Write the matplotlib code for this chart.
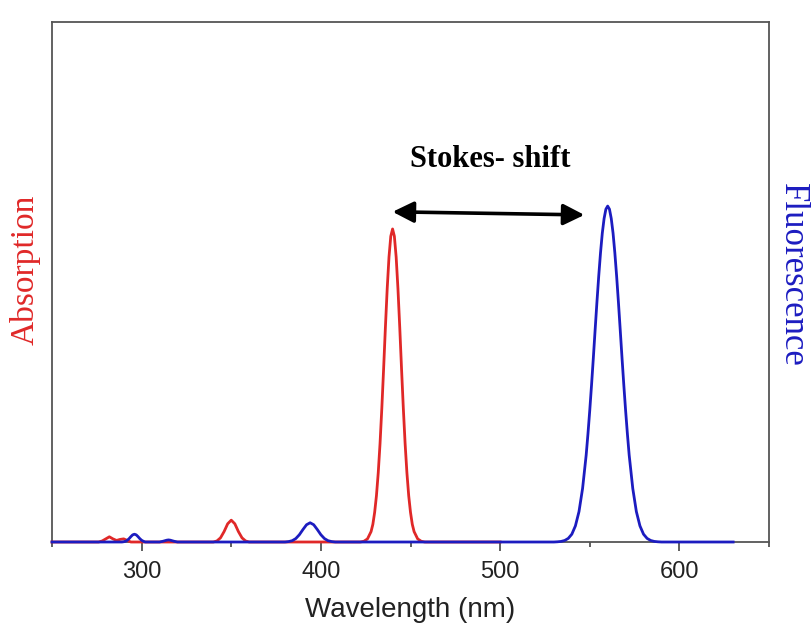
import matplotlib
matplotlib.use("Agg")
from matplotlib import pyplot as plt

# absorption spectrum (red), wavelength in nm vs. relative intensity
abs_nm = [250, 276, 278, 280, 282, 284, 286, 288, 290, 292, 294,
          340, 342, 344, 346, 348, 350, 352, 354, 356, 358, 360,
          422, 424, 426, 428, 429, 430, 431, 432, 433, 434, 435, 436, 437, 438, 439,
          440, 441, 442, 443, 444, 445, 446, 447, 448, 449, 450, 451, 452,
          454, 456, 458, 460, 500]
abs_int = [0.0, 0.0, 0.002, 0.006, 0.010, 0.006, 0.003, 0.005, 0.006, 0.003, 0.0,
           0.0, 0.002, 0.008, 0.020, 0.035, 0.042, 0.035, 0.020, 0.008, 0.002, 0.0,
           0.0, 0.0014, 0.006, 0.020, 0.034, 0.057, 0.089, 0.133, 0.189, 0.257, 0.333, 0.413, 0.487, 0.548, 0.588,
           0.602, 0.588, 0.548, 0.487, 0.413, 0.333, 0.257, 0.189, 0.133, 0.089, 0.057, 0.034, 0.020,
           0.006, 0.0014, 0.0, 0.0, 0.0]

# fluorescence spectrum (blue)
fl_nm = [250, 289, 290, 291, 292, 293, 294, 295, 296, 297, 298, 299, 300, 301, 302,
         310, 312, 314, 315, 316, 318, 320,
         380, 382, 384, 386, 388, 390, 392, 394, 396, 398, 400, 402, 404, 406, 408,
         530, 532, 534, 536, 538, 540, 542, 544, 546, 548, 549, 550, 551, 552, 553, 554,
         555, 556, 557, 558, 559, 560, 561, 562, 563, 564, 565, 566, 567, 568, 569, 570,
         571, 572, 574, 576, 578, 580, 582, 584, 586, 588, 590, 630]
fl_int = [0.0, 0.0, 0.0005, 0.0014, 0.0033, 0.0064, 0.0103, 0.0137, 0.015, 0.0137, 0.0103, 0.0064, 0.0033, 0.0014, 0.0,
          0.0, 0.0015, 0.0035, 0.004, 0.0035, 0.0015, 0.0,
          0.0, 0.0008, 0.0025, 0.0066, 0.014, 0.024, 0.0332, 0.037, 0.0332, 0.024, 0.014, 0.0066, 0.0025, 0.0008, 0.0,
          0.0, 0.0004, 0.0011, 0.0029, 0.0069, 0.015, 0.031, 0.0585, 0.103, 0.167, 0.208, 0.253, 0.302, 0.354, 0.408, 0.461,
          0.511, 0.556, 0.594, 0.622, 0.640, 0.646, 0.640, 0.622, 0.594, 0.556, 0.511, 0.461, 0.408, 0.354, 0.302, 0.253,
          0.208, 0.167, 0.103, 0.0585, 0.031, 0.015, 0.0069, 0.0029, 0.0011, 0.0004, 0.0, 0.0]

# Stokes shift arrow ends (nm, intensity)
stokes_x = [440, 547]
stokes_y = [0.635, 0.629]

major_ticks = [300, 400, 500, 600]
minor_ticks = [250, 350, 450, 550, 650]

RED = "#e02828"
BLUE = "#1c1cc0"

fig = plt.figure(figsize=(8.11, 6.29), dpi=100)
ax = fig.add_axes([52 / 811, 1 - 542 / 629, 717 / 811, 520 / 629])

ax.plot(abs_nm, abs_int, color=RED, lw=2.0, clip_on=False, zorder=3)
ax.plot(fl_nm, fl_int, color=BLUE, lw=2.0, clip_on=False, zorder=4)

ax.set_xlim(250, 650)
ax.set_ylim(0, 1)

ax.set_xticks(major_ticks)
ax.set_xticks(minor_ticks, minor=True)
ax.set_yticks([])
ax.tick_params(axis="x", which="major", direction="out", length=6.5, width=1.2,
               color="#444444", labelsize=17, labelcolor="#222222", pad=7)
ax.tick_params(axis="x", which="minor", direction="out", length=3.6, width=1.2,
               color="#444444")
for lab in ax.get_xticklabels():
    lab.set_family("Liberation Sans")

for sp in ax.spines.values():
    sp.set_color("#555555")
    sp.set_linewidth(1.3)

ax.set_xlabel("Wavelength (nm)", fontsize=20, family="Liberation Sans",
              color="#222222", labelpad=10)

fig.text(25 / 811, 1 - 270 / 629, "Absorption", rotation=90, color=RED,
         fontsize=24, family="Liberation Serif", ha="center", va="center")
fig.text(792 / 811, 1 - 275 / 629, "Fluorescence", rotation=-90, color=BLUE,
         fontsize=25, family="Liberation Serif", ha="center", va="center")

ax.annotate("", xy=(stokes_x[1], stokes_y[1]), xytext=(stokes_x[0], stokes_y[0]),
            arrowprops=dict(arrowstyle="<|-|>", color="black", lw=2.6,
                            mutation_scale=32, shrinkA=0, shrinkB=0))
ax.text(sum(stokes_x) / 2 + 1, 0.735, "Stokes- shift", fontsize=22,
        fontweight="bold", family="Liberation Serif", ha="center", va="center")

fig.savefig("out.png", dpi=100)
